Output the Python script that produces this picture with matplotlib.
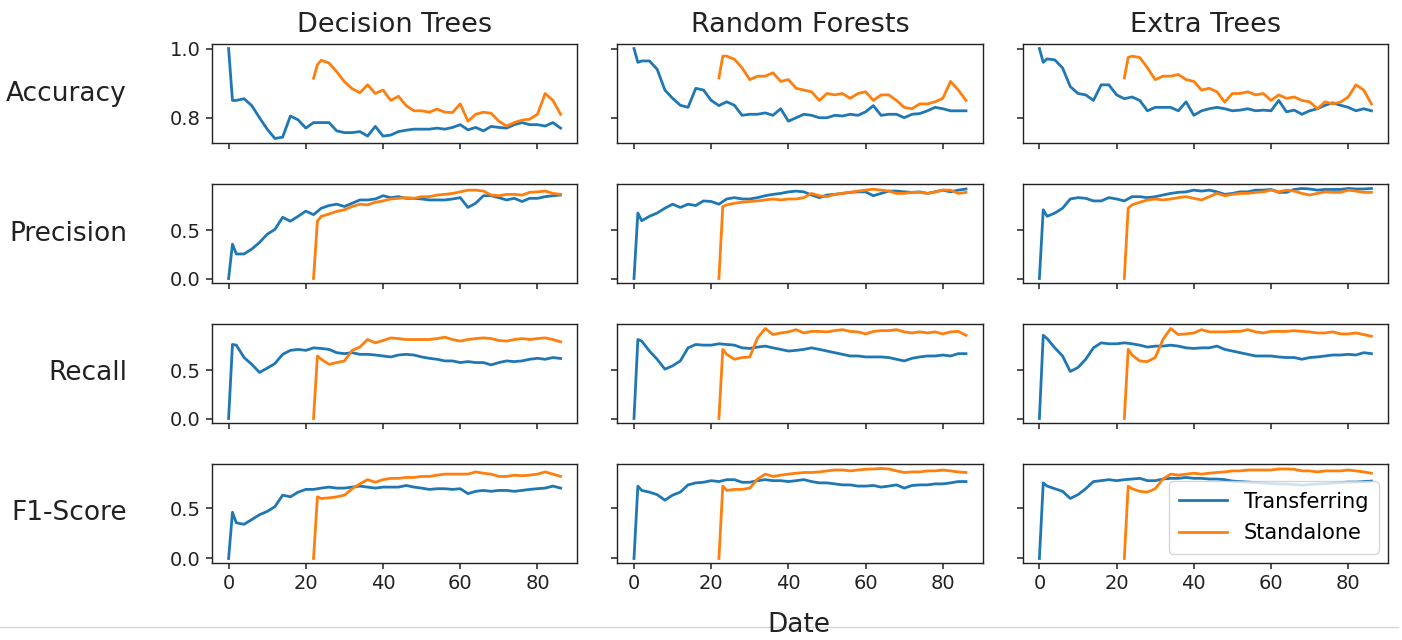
import matplotlib
matplotlib.use("Agg")
import matplotlib.pyplot as plt
from matplotlib.lines import Line2D

# -------------------------
# data
# -------------------------
X_T = [0, 1] + list(range(2, 87, 2))    # transferring: days 0..86
X_S = [22, 23] + list(range(24, 87, 2))  # standalone: days 22..86

models = ['Decision Trees', 'Random Forests', 'Extra Trees']
metrics = ['Accuracy', 'Precision', 'Recall', 'F1-Score']

# Accuracy
acc_dt_t = [1.00, 0.85, 0.85, 0.855, 0.835, 0.80, 0.767, 0.74, 0.744, 0.805,
            0.794, 0.77, 0.786, 0.786, 0.786, 0.762, 0.757, 0.757, 0.76, 0.747,
            0.775, 0.747, 0.75, 0.76, 0.764, 0.767, 0.767, 0.767, 0.77, 0.767,
            0.772, 0.78, 0.765, 0.772, 0.762, 0.775, 0.772, 0.77, 0.78, 0.786,
            0.78, 0.78, 0.776, 0.786, 0.77]
acc_dt_s = [0.914, 0.953, 0.966, 0.958, 0.933, 0.904, 0.884, 0.872, 0.895, 0.87,
            0.88, 0.85, 0.862, 0.835, 0.82, 0.82, 0.816, 0.825, 0.816, 0.815,
            0.84, 0.79, 0.81, 0.816, 0.813, 0.79, 0.776, 0.786, 0.793, 0.796,
            0.81, 0.87, 0.85, 0.81]
acc_rf_t = [1.00, 0.96, 0.964, 0.964, 0.94, 0.88, 0.856, 0.836, 0.83, 0.885,
            0.88, 0.85, 0.835, 0.846, 0.836, 0.807, 0.81, 0.81, 0.814, 0.807,
            0.826, 0.79, 0.80, 0.81, 0.807, 0.80, 0.80, 0.807, 0.805, 0.81,
            0.807, 0.817, 0.835, 0.807, 0.81, 0.81, 0.80, 0.81, 0.812, 0.82,
            0.83, 0.826, 0.82, 0.82, 0.82]
acc_rf_s = [0.915, 0.978, 0.978, 0.969, 0.944, 0.91, 0.92, 0.92, 0.93, 0.905,
            0.91, 0.885, 0.88, 0.875, 0.85, 0.87, 0.866, 0.87, 0.856, 0.87,
            0.875, 0.85, 0.866, 0.866, 0.85, 0.83, 0.826, 0.84, 0.84, 0.846,
            0.856, 0.905, 0.88, 0.85]
acc_et_t = [1.00, 0.96, 0.97, 0.967, 0.944, 0.89, 0.87, 0.866, 0.85, 0.895,
            0.895, 0.866, 0.855, 0.86, 0.85, 0.82, 0.83, 0.83, 0.83, 0.82,
            0.846, 0.807, 0.82, 0.826, 0.83, 0.826, 0.82, 0.822, 0.826, 0.82,
            0.822, 0.82, 0.85, 0.817, 0.822, 0.81, 0.82, 0.826, 0.836, 0.843,
            0.836, 0.83, 0.82, 0.826, 0.82]
acc_et_s = [0.915, 0.974, 0.978, 0.974, 0.944, 0.91, 0.92, 0.92, 0.925, 0.91,
            0.905, 0.88, 0.885, 0.875, 0.845, 0.87, 0.87, 0.875, 0.866, 0.87,
            0.85, 0.866, 0.856, 0.86, 0.85, 0.846, 0.826, 0.846, 0.84, 0.845,
            0.86, 0.895, 0.88, 0.84]

# Precision
prec_dt_t = [0.0, 0.357, 0.255, 0.255, 0.306, 0.374, 0.46, 0.51, 0.636, 0.595,
             0.646, 0.70, 0.663, 0.73, 0.758, 0.772, 0.748, 0.782, 0.816, 0.816,
             0.826, 0.86, 0.84, 0.85, 0.833, 0.833, 0.826, 0.816, 0.816, 0.816,
             0.826, 0.84, 0.738, 0.782, 0.86, 0.86, 0.84, 0.816, 0.833, 0.80,
             0.833, 0.833, 0.85, 0.86, 0.867]
prec_dt_s = [0.0, 0.595, 0.646, 0.67, 0.697, 0.714, 0.748, 0.772, 0.765, 0.792,
             0.806, 0.826, 0.833, 0.84, 0.833, 0.85, 0.85, 0.867, 0.874, 0.884,
             0.90, 0.918, 0.918, 0.908, 0.867, 0.86, 0.874, 0.874, 0.867, 0.895,
             0.90, 0.908, 0.884, 0.874]
prec_rf_t = [0.0, 0.68, 0.60, 0.646, 0.68, 0.73, 0.772, 0.738, 0.772, 0.758,
             0.806, 0.80, 0.772, 0.826, 0.84, 0.826, 0.826, 0.84, 0.86, 0.874,
             0.884, 0.90, 0.908, 0.90, 0.867, 0.84, 0.867, 0.874, 0.884, 0.895,
             0.90, 0.90, 0.86, 0.884, 0.908, 0.908, 0.90, 0.895, 0.90, 0.884,
             0.90, 0.918, 0.90, 0.918, 0.93]
prec_rf_s = [0.0, 0.748, 0.765, 0.782, 0.792, 0.80, 0.806, 0.816, 0.826, 0.816,
             0.826, 0.826, 0.84, 0.884, 0.86, 0.85, 0.874, 0.884, 0.895, 0.908,
             0.918, 0.928, 0.918, 0.908, 0.884, 0.884, 0.895, 0.895, 0.884, 0.90,
             0.918, 0.918, 0.884, 0.895]
prec_et_t = [0.0, 0.714, 0.646, 0.68, 0.73, 0.826, 0.84, 0.833, 0.806, 0.806,
             0.84, 0.826, 0.806, 0.85, 0.85, 0.84, 0.85, 0.867, 0.884, 0.895,
             0.90, 0.918, 0.908, 0.918, 0.90, 0.874, 0.884, 0.90, 0.90, 0.918,
             0.918, 0.925, 0.895, 0.895, 0.925, 0.935, 0.93, 0.918, 0.925, 0.925,
             0.925, 0.935, 0.93, 0.93, 0.935]
prec_et_s = [0.0, 0.73, 0.765, 0.792, 0.816, 0.826, 0.816, 0.826, 0.84, 0.85,
             0.833, 0.816, 0.85, 0.884, 0.86, 0.874, 0.884, 0.884, 0.895, 0.90,
             0.918, 0.90, 0.918, 0.908, 0.884, 0.867, 0.884, 0.90, 0.895, 0.895,
             0.918, 0.908, 0.895, 0.895]

# Recall
rec_dt_t = [0.0, 0.765, 0.758, 0.63, 0.56, 0.476, 0.52, 0.568, 0.663, 0.704,
            0.714, 0.704, 0.73, 0.724, 0.714, 0.68, 0.67, 0.68, 0.663, 0.663,
            0.656, 0.646, 0.636, 0.656, 0.663, 0.656, 0.636, 0.622, 0.612, 0.595,
            0.595, 0.578, 0.588, 0.578, 0.578, 0.554, 0.578, 0.595, 0.588, 0.595,
            0.612, 0.622, 0.612, 0.63, 0.62]
rec_dt_s = [0.0, 0.646, 0.612, 0.56, 0.578, 0.595, 0.704, 0.738, 0.816, 0.782,
            0.806, 0.833, 0.826, 0.816, 0.816, 0.816, 0.816, 0.826, 0.84, 0.816,
            0.80, 0.816, 0.826, 0.833, 0.826, 0.806, 0.80, 0.816, 0.826, 0.816,
            0.826, 0.833, 0.816, 0.792]
rec_rf_t = [0.0, 0.816, 0.80, 0.697, 0.612, 0.51, 0.544, 0.595, 0.73, 0.765,
            0.758, 0.758, 0.772, 0.765, 0.758, 0.73, 0.724, 0.738, 0.748, 0.73,
            0.714, 0.697, 0.704, 0.714, 0.73, 0.714, 0.697, 0.68, 0.663, 0.646,
            0.646, 0.636, 0.636, 0.636, 0.63, 0.612, 0.595, 0.622, 0.636, 0.646,
            0.646, 0.656, 0.646, 0.67, 0.67]
rec_rf_s = [0.0, 0.714, 0.663, 0.612, 0.63, 0.636, 0.833, 0.93, 0.867, 0.884,
            0.895, 0.918, 0.884, 0.90, 0.90, 0.895, 0.908, 0.918, 0.90, 0.895,
            0.874, 0.90, 0.908, 0.908, 0.918, 0.895, 0.884, 0.895, 0.884, 0.895,
            0.874, 0.895, 0.90, 0.86]
rec_et_t = [0.0, 0.86, 0.826, 0.73, 0.646, 0.486, 0.527, 0.612, 0.73, 0.782,
            0.772, 0.772, 0.782, 0.772, 0.758, 0.738, 0.748, 0.748, 0.758, 0.748,
            0.73, 0.724, 0.73, 0.73, 0.748, 0.714, 0.697, 0.68, 0.663, 0.646,
            0.646, 0.646, 0.636, 0.63, 0.63, 0.612, 0.63, 0.636, 0.646, 0.656,
            0.656, 0.663, 0.656, 0.68, 0.67]
rec_et_s = [0.0, 0.714, 0.656, 0.595, 0.588, 0.63, 0.816, 0.93, 0.867, 0.874,
            0.884, 0.918, 0.895, 0.895, 0.895, 0.90, 0.90, 0.918, 0.895, 0.884,
            0.90, 0.90, 0.90, 0.908, 0.90, 0.895, 0.884, 0.884, 0.895, 0.874,
            0.874, 0.884, 0.867, 0.85]

# F1-Score
f1_dt_t = [0.0, 0.46, 0.355, 0.34, 0.387, 0.435, 0.468, 0.516, 0.63, 0.613,
           0.66, 0.687, 0.687, 0.70, 0.71, 0.70, 0.70, 0.71, 0.72, 0.71,
           0.70, 0.71, 0.71, 0.71, 0.726, 0.71, 0.70, 0.687, 0.694, 0.694,
           0.687, 0.694, 0.645, 0.668, 0.677, 0.668, 0.677, 0.677, 0.668, 0.677,
           0.687, 0.694, 0.70, 0.72, 0.70]
f1_dt_s = [0.0, 0.613, 0.597, 0.603, 0.613, 0.63, 0.694, 0.742, 0.784, 0.758,
           0.784, 0.797, 0.797, 0.806, 0.806, 0.816, 0.816, 0.829, 0.839, 0.839,
           0.839, 0.839, 0.861, 0.848, 0.839, 0.816, 0.816, 0.829, 0.823, 0.829,
           0.839, 0.861, 0.839, 0.816]
f1_rf_t = [0.0, 0.72, 0.677, 0.66, 0.635, 0.58, 0.63, 0.66, 0.732, 0.752,
           0.758, 0.774, 0.765, 0.784, 0.784, 0.758, 0.758, 0.774, 0.784, 0.774,
           0.774, 0.765, 0.774, 0.784, 0.765, 0.752, 0.752, 0.742, 0.732, 0.732,
           0.72, 0.72, 0.726, 0.71, 0.72, 0.732, 0.70, 0.726, 0.732, 0.732,
           0.742, 0.742, 0.752, 0.765, 0.765]
f1_rf_s = [0.0, 0.72, 0.677, 0.687, 0.687, 0.70, 0.79, 0.839, 0.816, 0.829,
           0.839, 0.848, 0.855, 0.855, 0.861, 0.871, 0.88, 0.88, 0.871, 0.88,
           0.887, 0.89, 0.895, 0.89, 0.871, 0.855, 0.861, 0.861, 0.871, 0.871,
           0.88, 0.871, 0.861, 0.855]
f1_et_t = [0.0, 0.752, 0.72, 0.694, 0.668, 0.597, 0.635, 0.694, 0.765, 0.774,
           0.784, 0.774, 0.784, 0.79, 0.797, 0.774, 0.774, 0.79, 0.797, 0.797,
           0.806, 0.797, 0.797, 0.79, 0.79, 0.784, 0.77, 0.765, 0.76, 0.755,
           0.75, 0.745, 0.74, 0.74, 0.735, 0.73, 0.735, 0.74, 0.745, 0.75,
           0.755, 0.76, 0.76, 0.765, 0.77]
f1_et_s = [0.0, 0.72, 0.694, 0.668, 0.66, 0.694, 0.79, 0.839, 0.829, 0.839,
           0.848, 0.839, 0.848, 0.855, 0.861, 0.871, 0.871, 0.88, 0.88, 0.88,
           0.88, 0.89, 0.89, 0.887, 0.871, 0.871, 0.861, 0.871, 0.871, 0.871,
           0.88, 0.871, 0.861, 0.848]

transferring = [[acc_dt_t, acc_rf_t, acc_et_t],
                [prec_dt_t, prec_rf_t, prec_et_t],
                [rec_dt_t, rec_rf_t, rec_et_t],
                [f1_dt_t, f1_rf_t, f1_et_t]]
standalone = [[acc_dt_s, acc_rf_s, acc_et_s],
              [prec_dt_s, prec_rf_s, prec_et_s],
              [rec_dt_s, rec_rf_s, rec_et_s],
              [f1_dt_s, f1_rf_s, f1_et_s]]

yticks = [[0.8, 1.0], [0.0, 0.5], [0.0, 0.5], [0.0, 0.5]]

# -------------------------
# plot
# -------------------------
W, H = 1402, 640
fig, axes = plt.subplots(4, 3, figsize=(W / 100, H / 100), dpi=100,
                         sharex=True, sharey='row')
fig.subplots_adjust(left=212 / W, right=1388 / W, top=1 - 44 / H,
                    bottom=1 - 563 / H, wspace=0.11, hspace=0.414)

for r in range(4):
    for c in range(3):
        ax = axes[r, c]
        ax.plot(X_T, transferring[r][c], color='#1f77b4', lw=2.0,
                label='Transferring')
        ax.plot(X_S, standalone[r][c], color='#ff7f0e', lw=2.0,
                label='Standalone')
        ax.set_yticks(yticks[r])
        ax.tick_params(labelsize=14, length=4.5, width=1.1, colors='#222222')
        for sp in ax.spines.values():
            sp.set_linewidth(1.0)
            sp.set_color('#222222')
        if r == 0:
            ax.set_title(models[c], fontsize=19.5, pad=9, color='#222222')
    # row label on the left
    pos = axes[r, 0].get_position()
    fig.text(127 / W, (pos.y0 + pos.y1) / 2, metrics[r], fontsize=19,
             ha='right', va='center', color='#222222')

axes[3, 0].set_xticks([0, 20, 40, 60, 80])

axes[3, 2].legend(loc='lower right', fontsize=15, handlelength=2.3,
                  borderpad=0.5, labelspacing=0.55, borderaxespad=0.45)

fig.text(799 / W, 1 - 625 / H, 'Date', fontsize=19, ha='center', va='center',
         color='#222222')

# separator line of the notebook output cell
fig.add_artist(Line2D([0, 0.997], [1 - 627 / H, 1 - 627 / H],
                      color='#d6d6d6', lw=1.0, zorder=-1))

fig.savefig('out.png', dpi=100)
